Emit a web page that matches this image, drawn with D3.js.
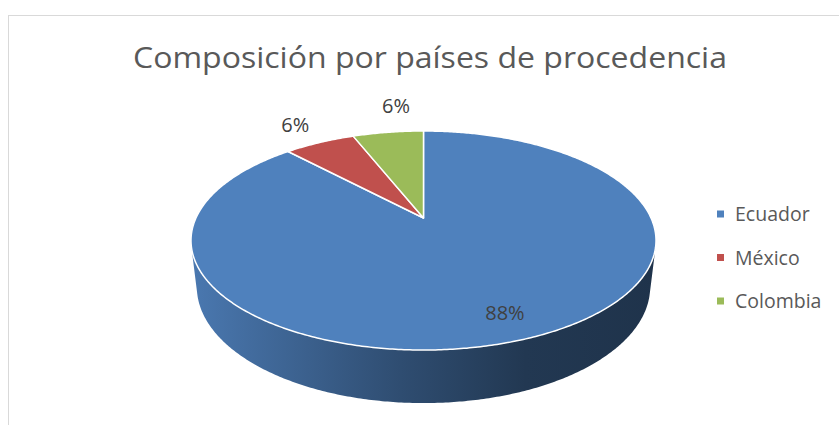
<!DOCTYPE html>
<html>
<head>
<meta charset="utf-8">
<script src="https://cdn.jsdelivr.net/npm/d3@7"></script>
<style>
  body { margin: 0; background: #fff; }
  svg { display: block; font-family: "Open Sans", sans-serif; }
</style>
</head>
<body>
<svg></svg>
<script>
var categories = ["Ecuador", "México", "Colombia"],
    values = [88, 6, 6],
    colors = ["#4f81bd", "#c0504d", "#9bbb59"];

var width = 839, height = 425;

var svg = d3.select("svg")
    .attr("width", width)
    .attr("height", height);

// chart area border
svg.append("rect")
    .attr("x", 8.5).attr("y", 15.5)
    .attr("width", width).attr("height", height)
    .attr("fill", "#fff")
    .attr("stroke", "#d9d9d9");

svg.append("text")
    .attr("x", 430).attr("y", 68)
    .attr("text-anchor", "middle")
    .attr("font-size", 30)
    .attr("fill", "#595959")
    .attr("textLength", 594)
    .attr("lengthAdjust", "spacingAndGlyphs")
    .text("Composición por países de procedencia");

// simple perspective camera for the 3d disc
var cx = 423.5, cy = 218, f = 982, D = 1, R = 0.2317, H = 0.0536,
    tilt = Math.asin(0.461);

function project(theta, r, yw) {
  var x = r * R * Math.sin(theta),
      z = -r * R * Math.cos(theta),
      depth = D - z * Math.cos(tilt) - yw * Math.sin(tilt);
  return [cx + f * x / depth, cy + f * (z * Math.sin(tilt) - yw * Math.cos(tilt)) / depth];
}

function rim(a0, a1, yw) {
  var pts = [], n = Math.max(2, Math.ceil((a1 - a0) / 0.01));
  for (var i = 0; i <= n; i++) pts.push(project(a0 + (a1 - a0) * i / n, 1, yw));
  return pts;
}

var pie = d3.pie().sort(null).value(function(d) { return d; });
var arcs = pie(values);

var line = d3.line();

// side wall, only the part facing the camera
var a = Math.acos(-R / (D * Math.cos(tilt)));
var defs = svg.append("defs");

arcs.forEach(function(d, i) {
  var a0 = Math.max(d.startAngle, a), a1 = Math.min(d.endAngle, 2 * Math.PI - a);
  if (a0 >= a1) return;
  var c = d3.color(colors[i]);
  var grad = defs.append("linearGradient")
      .attr("id", "side" + i)
      .attr("gradientUnits", "userSpaceOnUse")
      .attr("x1", 191).attr("x2", 656).attr("y1", 0).attr("y2", 0);
  grad.append("stop").attr("offset", "0%").attr("stop-color", c.darker(0.2));
  grad.append("stop").attr("offset", "45%").attr("stop-color", c.darker(1.43));
  grad.append("stop").attr("offset", "72%").attr("stop-color", c.darker(2.35));
  grad.append("stop").attr("offset", "100%").attr("stop-color", c.darker(2.6));

  var top = rim(a0, a1, 0), bottom = rim(a0, a1, -H).reverse();
  svg.append("path")
      .attr("d", line(top.concat(bottom)) + "Z")
      .attr("fill", "url(#side" + i + ")");
});

// top face
svg.append("g")
  .selectAll("path")
  .data(arcs)
  .enter().append("path")
    .attr("d", function(d) {
      return line([project(0, 0, 0)].concat(rim(d.startAngle, d.endAngle, 0))) + "Z";
    })
    .attr("fill", function(d, i) { return colors[i]; })
    .attr("stroke", "#fff")
    .attr("stroke-width", 1.5)
    .attr("stroke-linejoin", "round");

// data labels: big slice inside, small ones outside the rim
var total = d3.sum(values);
svg.append("g")
  .selectAll("text")
  .data(arcs)
  .enter().append("text")
    .attr("font-size", 20)
    .attr("fill", "#404040")
    .each(function(d) {
      var mid = (d.startAngle + d.endAngle) / 2, p, anchor = "middle";
      if (d.value / total > 0.5) {
        p = project(mid, 0.82, 0);
        p[1] += 7;
      } else {
        var o = project(0, 0, 0), e = project(mid, 1, 0),
            dx = e[0] - o[0], dy = e[1] - o[1], len = Math.sqrt(dx * dx + dy * dy);
        if (Math.abs(dx / len) < 0.5) {
          anchor = "start";
          p = [e[0] - 6, e[1] - 19];
        } else {
          p = [e[0] + dx / len * 30, e[1] + dy / len * 30 + 7];
        }
      }
      d3.select(this)
          .attr("text-anchor", anchor)
          .attr("x", p[0]).attr("y", p[1]);
    })
    .text(function(d) { return Math.round(d.value / total * 100) + "%"; });

// legend
var legend = svg.append("g")
  .selectAll("g")
  .data(categories)
  .enter().append("g")
    .attr("transform", function(d, i) { return "translate(717," + (214 + i * 43.5) + ")"; });

legend.append("rect")
    .attr("x", 0).attr("y", -3.5)
    .attr("width", 7).attr("height", 7)
    .attr("fill", function(d, i) { return colors[i]; });

legend.append("text")
    .attr("x", 18).attr("y", 7)
    .attr("font-size", 19.5)
    .attr("fill", "#595959")
    .text(function(d) { return d; });
</script>
</body>
</html>
